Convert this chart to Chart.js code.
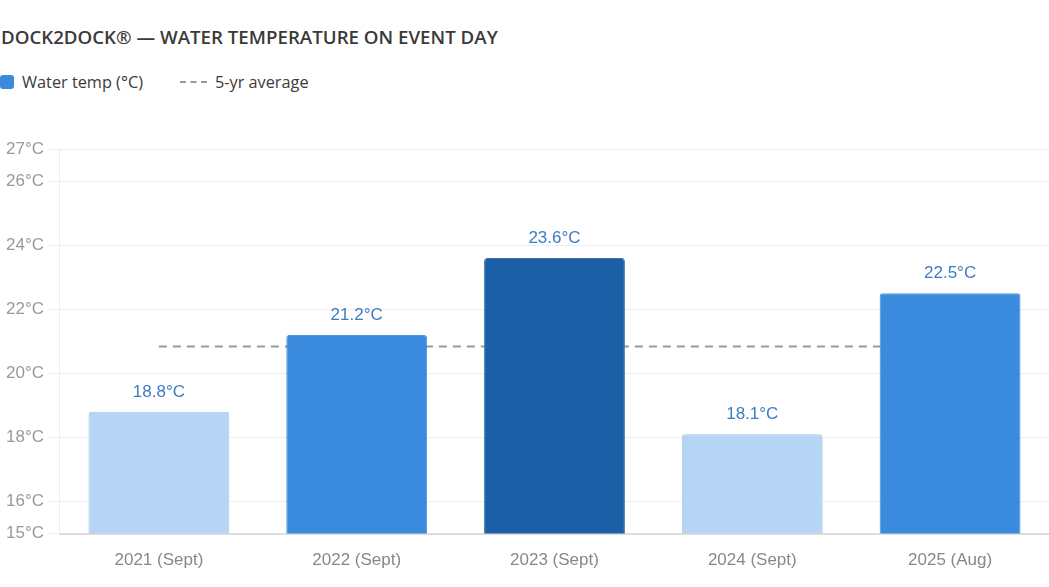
<!DOCTYPE html>
<html>
<head>
<meta charset="utf-8">
<script src="https://cdn.jsdelivr.net/npm/chart.js@4"></script>
<style>
  body { margin: 0; background: #fff; width: 1049px; height: 587px; overflow: hidden; position: relative; font-family: "Open Sans", "Noto Sans", sans-serif; }
  .title { position: absolute; left: 1px; top: 24px; font-size: 18.7px; font-weight: 600; color: #3a3a3a; }
  .legend { position: absolute; left: 0; top: 71px; font-size: 16.3px; color: #3a3a3a; display: flex; align-items: center; }
  .sw { width: 14px; height: 14px; background: #3a8ade; border-radius: 3px; margin-right: 8px; }
  .dash { width: 27px; border-top: 2px dashed #999; margin: 0 8px 0 37px; }
  #wrap { position: absolute; left: 0; top: 129px; width: 1049px; height: 458px; }
</style>
</head>
<body>
<div class="title">DOCK2DOCK® — WATER TEMPERATURE ON EVENT DAY</div>
<div class="legend"><span class="sw"></span>Water temp (°C)<span class="dash"></span>5-yr average</div>
<div id="wrap"><canvas id="myChart"></canvas></div>
<script>
const years = ["2021 (Sept)", "2022 (Sept)", "2023 (Sept)", "2024 (Sept)", "2025 (Aug)"];
const temps = [18.8, 21.2, 23.6, 18.1, 22.5];
const yTicks = [15, 16, 18, 20, 22, 24, 26, 27];
const barColors = ["#b6d4f3", "#3a8ade", "#1b5fa6", "#b6d4f3", "#3a8ade"];
const borderColors = ["#a5c8ee", "#4b93dc", "#3b72ae", "#a5c8ee", "#4b93dc"];
const avg = temps.reduce((a, b) => a + b, 0) / temps.length;
const avgLine = years.map(() => avg);

const valueLabels = {
  id: "valueLabels",
  afterDatasetsDraw(chart) {
    const ctx = chart.ctx;
    const meta = chart.getDatasetMeta(0);
    ctx.save();
    ctx.font = "17px 'Liberation Sans', Arial, sans-serif";
    ctx.fillStyle = "#3d7cc4";
    ctx.textAlign = "center";
    ctx.textBaseline = "bottom";
    meta.data.forEach((bar, i) => {
      ctx.fillText(temps[i].toFixed(1) + "°C", bar.x, bar.y - 11);
    });
    ctx.restore();
  }
};

new Chart("myChart", {
  type: "bar",
  data: {
    labels: years,
    datasets: [{
      label: "Water temp (°C)",
      data: temps,
      backgroundColor: barColors,
      borderColor: borderColors,
      borderWidth: 1,
      borderRadius: 3,
      borderSkipped: "bottom",
      barPercentage: 0.89,
      categoryPercentage: 0.8,
      order: 1
    }, {
      type: "line",
      label: "5-yr average",
      data: avgLine,
      borderColor: "#999",
      borderWidth: 2,
      borderDash: [8, 6],
      pointRadius: 0,
      fill: false,
      order: 2
    }]
  },
  options: {
    responsive: true,
    maintainAspectRatio: false,
    animation: false,
    layout: { padding: { left: 1, right: 0, top: 20, bottom: 7 } },
    plugins: {
      legend: { display: false },
      tooltip: { enabled: false }
    },
    scales: {
      x: {
        grid: { display: false },
        border: { color: "#ddd", width: 2 },
        ticks: { color: "#888", font: { family: "'Liberation Sans', Arial, sans-serif", size: 17 }, padding: 9 }
      },
      y: {
        min: 15,
        max: 27,
        afterBuildTicks: axis => { axis.ticks = yTicks.map(v => ({ value: v })); },
        ticks: {
          color: "#999",
          font: { family: "'Liberation Sans', Arial, sans-serif", size: 17 },
          padding: 5,
          callback: v => v + "°C"
        },
        grid: { color: "#eee", tickLength: 11 },
        border: { color: "#eee" }
      }
    }
  },
  plugins: [valueLabels]
});
</script>
</body>
</html>
